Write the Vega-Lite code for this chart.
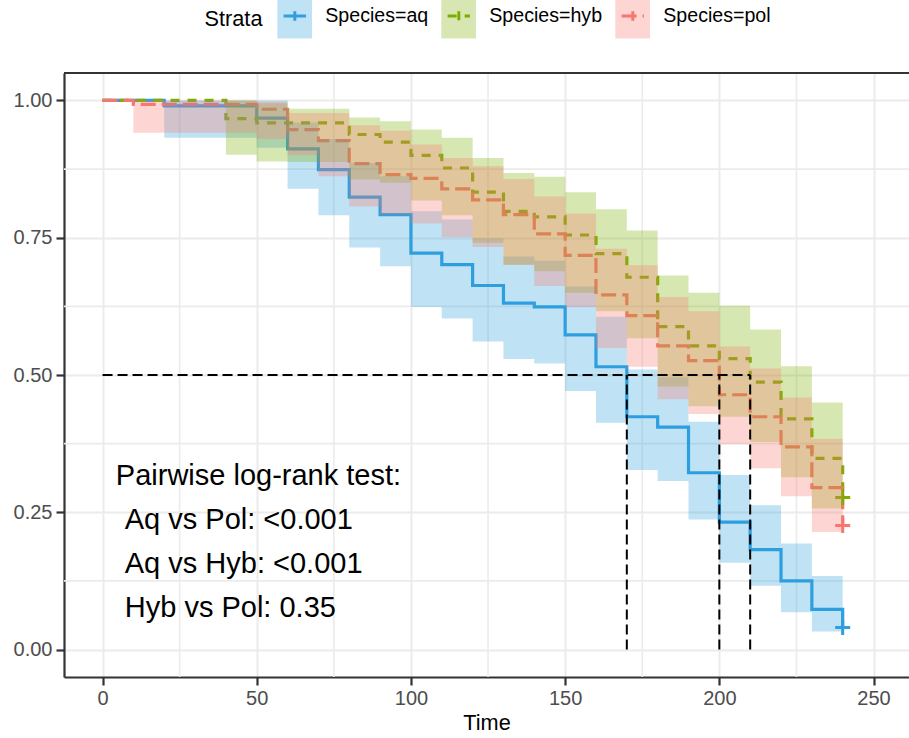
{
  "$schema": "https://vega.github.io/schema/vega-lite/v6.json",
  "width": 845,
  "height": 604,
  "autosize": {"type": "none"},
  "padding": {"left": 64, "top": 73, "right": 0, "bottom": 61},
  "background": "white",
  "config": {
    "font": "Liberation Sans",
    "view": {"stroke": null},
    "axis": {
      "grid": true, "gridColor": "#EBEBEB", "gridWidth": 2,
      "domain": true, "domainColor": "#333333", "domainWidth": 2.2,
      "tickColor": "#333333", "tickWidth": 2.2, "tickSize": 8,
      "labelFont": "Liberation Sans", "labelFontSize": 20, "labelColor": "#4D4D4D",
      "titleFont": "Liberation Sans", "titleFontSize": 21.7, "titleFontWeight": "normal", "titleColor": "#000000"
    },
    "legend": {
      "labelFont": "Liberation Sans", "titleFont": "Liberation Sans",
      "labelFontSize": 19.6, "titleFontSize": 21.7, "titleFontWeight": "normal"
    }
  },
  "datasets": {
    "surv": [
      {"species": "Species=aq", "time": 0, "surv": 1, "lower": 1, "upper": 1},
      {"species": "Species=aq", "time": 20, "surv": 0.990, "lower": 0.932, "upper": 1.0},
      {"species": "Species=aq", "time": 50, "surv": 0.968, "lower": 0.914, "upper": 1.0},
      {"species": "Species=aq", "time": 60, "surv": 0.912, "lower": 0.839, "upper": 0.960},
      {"species": "Species=aq", "time": 70, "surv": 0.874, "lower": 0.791, "upper": 0.930},
      {"species": "Species=aq", "time": 80, "surv": 0.824, "lower": 0.732, "upper": 0.886},
      {"species": "Species=aq", "time": 90, "surv": 0.792, "lower": 0.698, "upper": 0.862},
      {"species": "Species=aq", "time": 100, "surv": 0.722, "lower": 0.624, "upper": 0.798},
      {"species": "Species=aq", "time": 110, "surv": 0.701, "lower": 0.603, "upper": 0.783},
      {"species": "Species=aq", "time": 120, "surv": 0.663, "lower": 0.561, "upper": 0.749},
      {"species": "Species=aq", "time": 130, "surv": 0.631, "lower": 0.529, "upper": 0.716},
      {"species": "Species=aq", "time": 140, "surv": 0.624, "lower": 0.521, "upper": 0.708},
      {"species": "Species=aq", "time": 150, "surv": 0.573, "lower": 0.471, "upper": 0.661},
      {"species": "Species=aq", "time": 160, "surv": 0.515, "lower": 0.413, "upper": 0.606},
      {"species": "Species=aq", "time": 170, "surv": 0.424, "lower": 0.327, "upper": 0.510},
      {"species": "Species=aq", "time": 180, "surv": 0.405, "lower": 0.307, "upper": 0.496},
      {"species": "Species=aq", "time": 190, "surv": 0.322, "lower": 0.237, "upper": 0.415},
      {"species": "Species=aq", "time": 200, "surv": 0.232, "lower": 0.158, "upper": 0.318},
      {"species": "Species=aq", "time": 210, "surv": 0.182, "lower": 0.116, "upper": 0.263},
      {"species": "Species=aq", "time": 220, "surv": 0.125, "lower": 0.068, "upper": 0.193},
      {"species": "Species=aq", "time": 230, "surv": 0.073, "lower": 0.033, "upper": 0.134},
      {"species": "Species=aq", "time": 240, "surv": 0.040, "lower": 0.033, "upper": 0.134},
      {"species": "Species=hyb", "time": 0, "surv": 1, "lower": 1, "upper": 1},
      {"species": "Species=hyb", "time": 40, "surv": 0.967, "lower": 0.901, "upper": 1.0},
      {"species": "Species=hyb", "time": 50, "surv": 0.959, "lower": 0.889, "upper": 0.995},
      {"species": "Species=hyb", "time": 60, "surv": 0.959, "lower": 0.888, "upper": 0.985},
      {"species": "Species=hyb", "time": 80, "surv": 0.938, "lower": 0.856, "upper": 0.969},
      {"species": "Species=hyb", "time": 90, "surv": 0.924, "lower": 0.850, "upper": 0.962},
      {"species": "Species=hyb", "time": 100, "surv": 0.900, "lower": 0.818, "upper": 0.947},
      {"species": "Species=hyb", "time": 110, "surv": 0.877, "lower": 0.791, "upper": 0.932},
      {"species": "Species=hyb", "time": 120, "surv": 0.833, "lower": 0.741, "upper": 0.895},
      {"species": "Species=hyb", "time": 130, "surv": 0.798, "lower": 0.701, "upper": 0.868},
      {"species": "Species=hyb", "time": 140, "surv": 0.788, "lower": 0.689, "upper": 0.861},
      {"species": "Species=hyb", "time": 150, "surv": 0.755, "lower": 0.650, "upper": 0.833},
      {"species": "Species=hyb", "time": 160, "surv": 0.721, "lower": 0.616, "upper": 0.802},
      {"species": "Species=hyb", "time": 170, "surv": 0.678, "lower": 0.567, "upper": 0.763},
      {"species": "Species=hyb", "time": 180, "surv": 0.588, "lower": 0.479, "upper": 0.681},
      {"species": "Species=hyb", "time": 190, "surv": 0.553, "lower": 0.443, "upper": 0.650},
      {"species": "Species=hyb", "time": 200, "surv": 0.530, "lower": 0.424, "upper": 0.626},
      {"species": "Species=hyb", "time": 210, "surv": 0.487, "lower": 0.378, "upper": 0.583},
      {"species": "Species=hyb", "time": 220, "surv": 0.420, "lower": 0.314, "upper": 0.516},
      {"species": "Species=hyb", "time": 230, "surv": 0.348, "lower": 0.257, "upper": 0.450},
      {"species": "Species=hyb", "time": 240, "surv": 0.277, "lower": 0.257, "upper": 0.450},
      {"species": "Species=pol", "time": 0, "surv": 1, "lower": 1, "upper": 1},
      {"species": "Species=pol", "time": 10, "surv": 0.993, "lower": 0.941, "upper": 1.0},
      {"species": "Species=pol", "time": 50, "surv": 0.984, "lower": 0.930, "upper": 0.998},
      {"species": "Species=pol", "time": 60, "surv": 0.947, "lower": 0.900, "upper": 0.977},
      {"species": "Species=pol", "time": 70, "surv": 0.927, "lower": 0.862, "upper": 0.977},
      {"species": "Species=pol", "time": 80, "surv": 0.885, "lower": 0.807, "upper": 0.955},
      {"species": "Species=pol", "time": 90, "surv": 0.865, "lower": 0.792, "upper": 0.945},
      {"species": "Species=pol", "time": 100, "surv": 0.858, "lower": 0.776, "upper": 0.920},
      {"species": "Species=pol", "time": 110, "surv": 0.839, "lower": 0.751, "upper": 0.895},
      {"species": "Species=pol", "time": 120, "surv": 0.819, "lower": 0.733, "upper": 0.880},
      {"species": "Species=pol", "time": 130, "surv": 0.792, "lower": 0.701, "upper": 0.857},
      {"species": "Species=pol", "time": 140, "surv": 0.757, "lower": 0.662, "upper": 0.825},
      {"species": "Species=pol", "time": 150, "surv": 0.718, "lower": 0.624, "upper": 0.794},
      {"species": "Species=pol", "time": 160, "surv": 0.646, "lower": 0.549, "upper": 0.730},
      {"species": "Species=pol", "time": 170, "surv": 0.608, "lower": 0.515, "upper": 0.700},
      {"species": "Species=pol", "time": 180, "surv": 0.553, "lower": 0.456, "upper": 0.642},
      {"species": "Species=pol", "time": 190, "surv": 0.526, "lower": 0.429, "upper": 0.616},
      {"species": "Species=pol", "time": 200, "surv": 0.464, "lower": 0.374, "upper": 0.552},
      {"species": "Species=pol", "time": 210, "surv": 0.424, "lower": 0.330, "upper": 0.512},
      {"species": "Species=pol", "time": 220, "surv": 0.369, "lower": 0.279, "upper": 0.459},
      {"species": "Species=pol", "time": 230, "surv": 0.295, "lower": 0.214, "upper": 0.384},
      {"species": "Species=pol", "time": 240, "surv": 0.226, "lower": 0.214, "upper": 0.384}
    ],
    "gridx": [{"gx": 25}, {"gx": 75}, {"gx": 125}, {"gx": 175}, {"gx": 225}],
    "gridy": [{"gy": 0.125}, {"gy": 0.375}, {"gy": 0.625}, {"gy": 0.875}],
    "border": [{"top": 1.05}],
    "medians": [
      {"x1": 0, "x2": 210, "y1": 0.5, "y2": 0.5},
      {"x1": 170, "x2": 170, "y1": 0, "y2": 0.5},
      {"x1": 200, "x2": 200, "y1": 0, "y2": 0.5},
      {"x1": 210, "x2": 210, "y1": 0, "y2": 0.5}
    ],
    "notes": [
      {"label": "Pairwise log-rank test:", "tx": 4.3, "ty": 0.30},
      {"label": "Aq vs Pol: <0.001", "tx": 7.2, "ty": 0.22},
      {"label": "Aq vs Hyb: <0.001", "tx": 7.2, "ty": 0.14},
      {"label": "Hyb vs Pol: 0.35", "tx": 7.2, "ty": 0.06}
    ]
  },
  "layer": [
    {
      "data": {"name": "gridx"},
      "mark": {"type": "rule", "color": "#EBEBEB", "strokeWidth": 1.6},
      "encoding": {
        "x": {"field": "gx", "type": "quantitative", "title": "Time",
              "scale": {"domain": [-12.5, 261.5], "nice": false, "zero": false},
              "axis": {"values": [0, 50, 100, 150, 200, 250], "labelPadding": 3, "titlePadding": 4}}
      }
    },
    {
      "data": {"name": "gridy"},
      "mark": {"type": "rule", "color": "#EBEBEB", "strokeWidth": 1.6},
      "encoding": {
        "y": {"field": "gy", "type": "quantitative", "title": null,
              "scale": {"domain": [-0.05, 1.05], "nice": false, "zero": false},
              "axis": {"values": [0, 0.25, 0.5, 0.75, 1], "format": ".2f", "labelPadding": 4}}
      }
    },
    {
      "data": {"name": "surv"},
      "mark": {"type": "line", "interpolate": "step-after", "strokeWidth": 3.2},
      "encoding": {
        "x": {"field": "time", "type": "quantitative", "title": "Time",
              "axis": {"values": [0, 50, 100, 150, 200, 250], "labelPadding": 3, "titlePadding": 4}},
        "y": {"field": "surv", "type": "quantitative", "title": null,
              "axis": {"values": [0, 0.25, 0.5, 0.75, 1], "format": ".2f", "labelPadding": 4}},
        "stroke": {
          "field": "species", "type": "nominal",
          "scale": {"domain": ["Species=aq", "Species=hyb", "Species=pol"], "range": ["#2E9FDF", "#7CAE00", "#F8766D"]},
          "legend": {
            "title": "Strata", "orient": "none", "legendX": 140.6, "legendY": -74.5,
            "direction": "horizontal", "titleOrient": "left", "titleAnchor": "middle", "titleBaseline": "middle",
            "symbolType": "M0,-1.03M-0.7,0H0.7M0,-0.3V0.3M0,1.03", "symbolSize": 1024,
            "symbolStrokeWidth": 3, "symbolFillColor": "transparent",
            "labelOffset": 13, "columnPadding": 13, "titlePadding": 14.7, "padding": 0,
            "labelColor": "#000000", "titleColor": "#000000",
            "encode": {"entries": {"update": {
              "fill": {"signal": "{gradient: 'linear', x1: 0, y1: 0, x2: 1, y2: 0, stops: [{offset: 0, color: ['#2E9FDF', '#7CAE00', '#F8766D'][datum.index]}, {offset: [0.2318, 0.2177, 0.2254][datum.index], color: ['#2E9FDF', '#7CAE00', '#F8766D'][datum.index]}, {offset: [0.2318, 0.2177, 0.2254][datum.index], color: 'rgba(255,255,255,0)'}, {offset: 1, color: 'rgba(255,255,255,0)'}]}"},
              "fillOpacity": {"value": 0.3}
            }}}
          }
        },
        "strokeDash": {
          "field": "species", "type": "nominal",
          "scale": {"domain": ["Species=aq", "Species=hyb", "Species=pol"], "range": [[1, 0], [9, 8], [15, 6]]},
          "legend": {
            "title": "Strata", "orient": "none", "legendX": 140.6, "legendY": -74.5,
            "direction": "horizontal", "titleOrient": "left", "titleAnchor": "middle", "titleBaseline": "middle",
            "symbolType": "M0,-1.03M-0.7,0H0.7M0,-0.3V0.3M0,1.03", "symbolSize": 1024,
            "symbolStrokeWidth": 3, "symbolFillColor": "transparent",
            "labelOffset": 13, "columnPadding": 13, "titlePadding": 14.7, "padding": 0,
            "labelColor": "#000000", "titleColor": "#000000",
            "encode": {"entries": {"update": {
              "fill": {"signal": "{gradient: 'linear', x1: 0, y1: 0, x2: 1, y2: 0, stops: [{offset: 0, color: ['#2E9FDF', '#7CAE00', '#F8766D'][datum.index]}, {offset: [0.2318, 0.2177, 0.2254][datum.index], color: ['#2E9FDF', '#7CAE00', '#F8766D'][datum.index]}, {offset: [0.2318, 0.2177, 0.2254][datum.index], color: 'rgba(255,255,255,0)'}, {offset: 1, color: 'rgba(255,255,255,0)'}]}"},
              "fillOpacity": {"value": 0.3}
            }}}
          }
        }
      }
    },
    {
      "data": {"name": "surv"},
      "transform": [{"filter": "datum.time == 240"}],
      "mark": {"type": "point", "shape": "M-1,0H1M0,-1V1", "filled": false, "size": 225, "strokeWidth": 3, "opacity": 1},
      "encoding": {
        "x": {"field": "time", "type": "quantitative", "title": "Time",
              "axis": {"values": [0, 50, 100, 150, 200, 250], "labelPadding": 3, "titlePadding": 4}},
        "y": {"field": "surv", "type": "quantitative", "title": null,
              "axis": {"values": [0, 0.25, 0.5, 0.75, 1], "format": ".2f", "labelPadding": 4}},
        "stroke": {"field": "species", "type": "nominal",
                   "scale": {"domain": ["Species=aq", "Species=hyb", "Species=pol"]},
                   "legend": null}
      }
    },
    {
      "data": {"name": "surv"},
      "mark": {"type": "area", "interpolate": "step-after", "opacity": 0.3},
      "encoding": {
        "x": {"field": "time", "type": "quantitative", "title": "Time",
              "axis": {"values": [0, 50, 100, 150, 200, 250], "labelPadding": 3, "titlePadding": 4}},
        "y": {"field": "lower", "type": "quantitative", "title": null,
              "axis": {"values": [0, 0.25, 0.5, 0.75, 1], "format": ".2f", "labelPadding": 4}},
        "y2": {"field": "upper"},
        "fill": {
          "field": "species", "type": "nominal",
          "scale": {"range": ["#2E9FDF", "#7CAE00", "#F8766D"]},
          "legend": null
        }
      }
    },
    {
      "data": {"name": "medians"},
      "mark": {"type": "rule", "color": "#000000", "strokeWidth": 2, "strokeDash": [10, 5]},
      "encoding": {
        "x": {"field": "x1", "type": "quantitative", "title": "Time",
              "axis": {"values": [0, 50, 100, 150, 200, 250], "labelPadding": 3, "titlePadding": 4}},
        "x2": {"field": "x2"},
        "y": {"field": "y1", "type": "quantitative", "title": null,
              "axis": {"values": [0, 0.25, 0.5, 0.75, 1], "format": ".2f", "labelPadding": 4}},
        "y2": {"field": "y2"}
      }
    },
    {
      "data": {"name": "border"},
      "mark": {"type": "rule", "color": "#333333", "strokeWidth": 2.2},
      "encoding": {
        "y": {"field": "top", "type": "quantitative", "title": null,
              "axis": {"values": [0, 0.25, 0.5, 0.75, 1], "format": ".2f", "labelPadding": 4}}
      }
    },
    {
      "data": {"name": "notes"},
      "mark": {"type": "text", "align": "left", "baseline": "alphabetic", "fontSize": 29, "color": "#000000", "font": "Liberation Sans"},
      "encoding": {
        "x": {"field": "tx", "type": "quantitative", "title": "Time",
              "axis": {"values": [0, 50, 100, 150, 200, 250], "labelPadding": 3, "titlePadding": 4}},
        "y": {"field": "ty", "type": "quantitative", "title": null,
              "axis": {"values": [0, 0.25, 0.5, 0.75, 1], "format": ".2f", "labelPadding": 4}},
        "text": {"field": "label"}
      }
    }
  ]
}
